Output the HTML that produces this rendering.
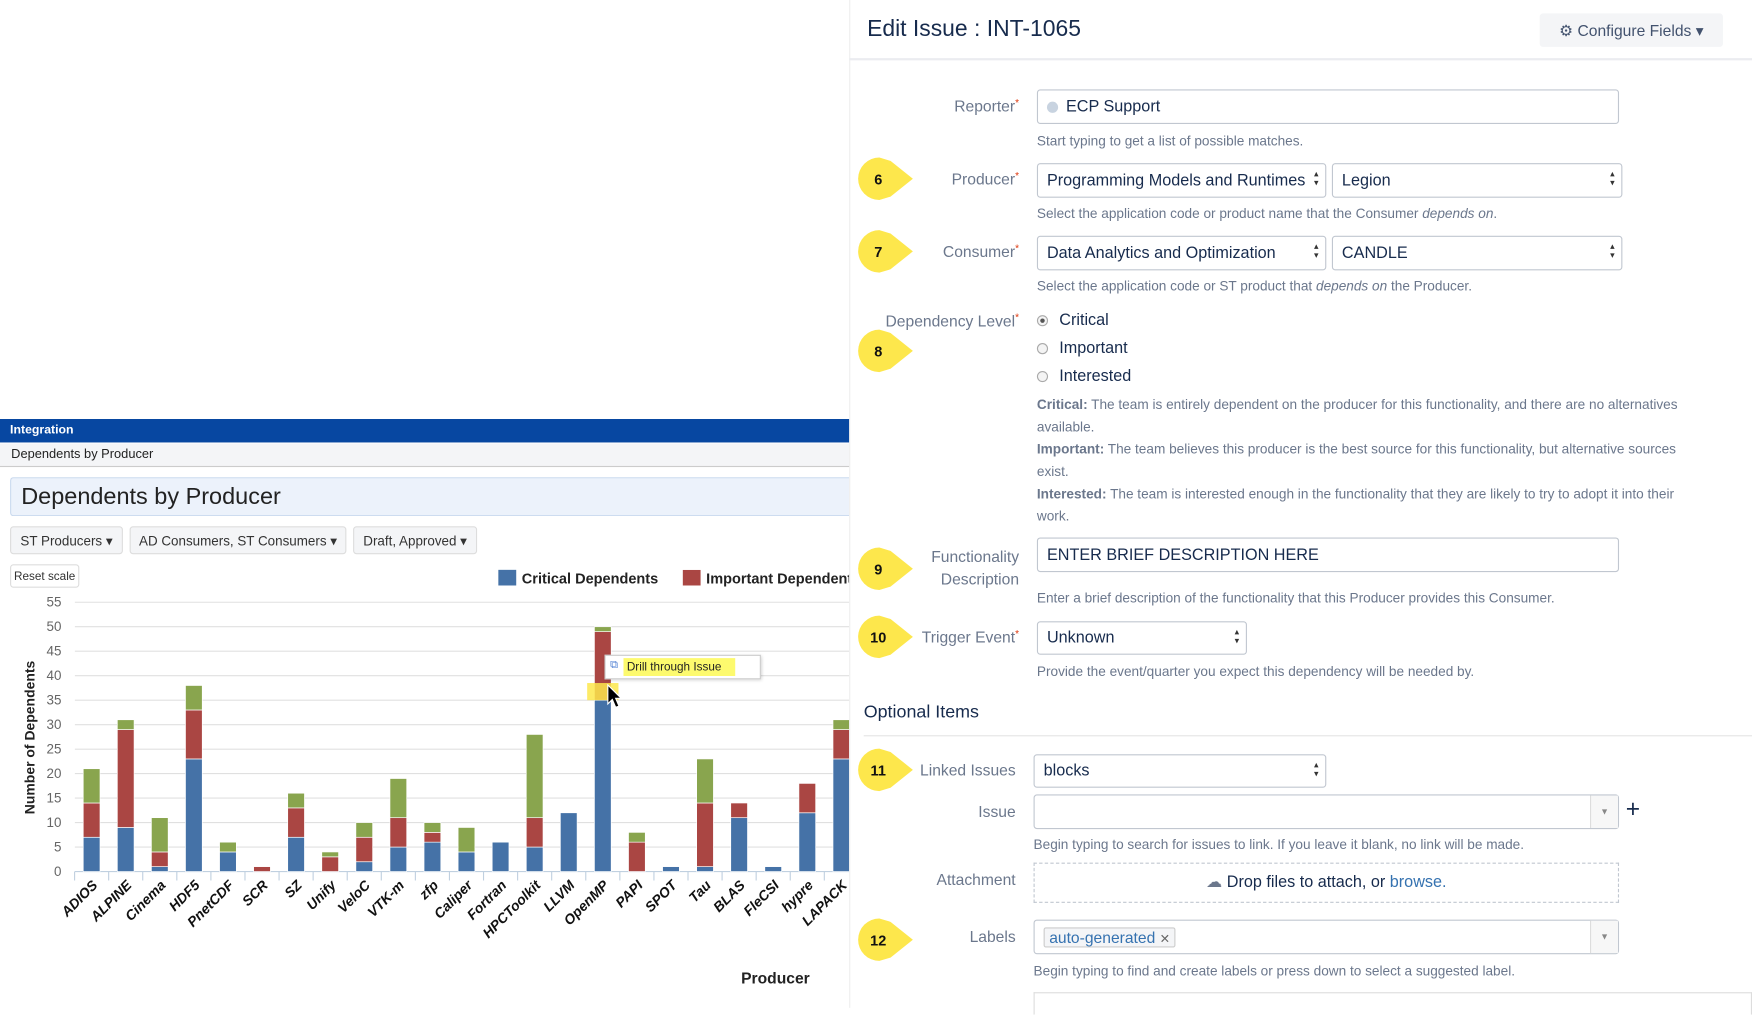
<!DOCTYPE html>
<html><head><meta charset="utf-8">
<style>
html,body{margin:0;padding:0;width:1752px;height:1008px;overflow:hidden;background:#fff;}
#wrap{position:absolute;left:0;top:0;width:1568px;height:902px;transform:scale(1.11735);transform-origin:0 0;font-family:"Liberation Sans",sans-serif;color:#172b4d;}
.abs{position:absolute;}
.lbl{position:absolute;right:656px;text-align:right;color:#6b778c;font-size:14px;white-space:nowrap;}
.req{color:#de350b;font-size:9px;vertical-align:top;}
.help{position:absolute;left:928px;color:#6b778c;font-size:12.2px;white-space:nowrap;}
.inp{position:absolute;border:1px solid #c1c7d0;border-radius:3px;background:#fff;box-sizing:border-box;font-size:14.5px;padding-left:8px;display:flex;align-items:center;color:#172b4d;}
.sel::after{content:"\25B4\A\25BE";white-space:pre;position:absolute;right:6px;top:5px;font-size:8px;line-height:8px;color:#333;}
.btn{position:absolute;background:#f4f5f7;border:1px solid #ddd;border-radius:3px;font-size:12px;color:#333;display:flex;align-items:center;justify-content:center;box-sizing:border-box;}
.radio{position:absolute;left:928px;width:10px;height:10px;border:1px solid #aaa;border-radius:50%;box-sizing:border-box;background:#f4f4f4;}
.rtxt{position:absolute;left:948px;font-size:14.5px;}
.desc{position:absolute;left:928px;font-size:12.2px;color:#6b778c;white-space:nowrap;}
.desc b{color:#6b778c;}
</style></head><body>
<div id="wrap">
<div class="abs" style="left:0;top:375px;width:760px;height:21px;background:#0747a1;color:#fff;font-size:11px;font-weight:bold;line-height:21px;padding-left:9px;box-sizing:border-box;">Integration</div>
<div class="abs" style="left:0;top:397px;width:760px;height:21px;background:#f4f5f7;border-bottom:1px solid #ccc;font-size:11.5px;line-height:21px;padding-left:10px;box-sizing:border-box;color:#222;">Dependents by Producer</div>
<div class="abs" style="left:9px;top:427px;width:751px;height:35px;background:#ecf2fb;border:1px solid #c9d9ee;border-right:none;border-radius:3px 0 0 3px;font-size:21px;line-height:33px;padding-left:9px;box-sizing:border-box;color:#222;">Dependents by Producer</div>
<div class="btn" style="left:9px;top:471px;width:101px;height:25px;">ST Producers ▾</div>
<div class="btn" style="left:116px;top:471px;width:194px;height:25px;">AD Consumers, ST Consumers ▾</div>
<div class="btn" style="left:316px;top:471px;width:111px;height:25px;">Draft, Approved ▾</div>
<div class="btn" style="left:9px;top:505px;width:62px;height:21px;background:#fff;font-size:10.5px;">Reset scale</div>
<div class="abs" style="left:446px;top:510px;font-size:13px;font-weight:bold;white-space:nowrap;color:#222;"><span style="display:inline-block;width:16px;height:14px;background:#4572a7;vertical-align:-2px;margin-right:5px;"></span>Critical Dependents</div>
<div class="abs" style="left:611px;top:510px;width:149px;overflow:hidden;font-size:13px;font-weight:bold;white-space:nowrap;color:#222;"><span style="display:inline-block;width:16px;height:14px;background:#aa4643;vertical-align:-2px;margin-right:5px;"></span>Important Dependents</div>

<svg id="chart" class="abs" style="left:0;top:0;" width="760" height="902" viewBox="0 0 760 902"></svg>

<div class="abs" style="left:541px;top:586px;width:140px;height:22px;background:#fff;border:1px solid #ccc;box-shadow:1px 1px 3px rgba(0,0,0,.2);box-sizing:border-box;">
<span style="position:absolute;left:4px;top:3px;font-size:10px;color:#4a7bd0;">⧉</span>
<span style="position:absolute;left:16px;top:2px;width:100px;height:16px;background:#fdfa6e;font-size:10.5px;line-height:16px;padding-left:3px;box-sizing:border-box;color:#222;">Drill through Issue</span></div>
<svg class="abs" style="left:542px;top:612px;" width="16" height="24"><path d="M2 1 L2 18 L6 14 L9 21 L12 20 L9 13 L14 13 Z" fill="#000" stroke="#fff" stroke-width="1"/></svg>

<div class="abs" style="left:760px;top:0;width:1px;height:902px;background:#eee;"></div>

<div class="abs" style="left:776px;top:14px;font-size:20.5px;color:#172b4d;">Edit Issue : INT-1065</div>
<div class="btn" style="left:1378px;top:12px;width:164px;height:30px;border:none;font-size:14px;color:#42526e;">⚙ Configure Fields ▾</div>
<div class="abs" style="left:760px;top:52px;width:808px;height:2px;background:#ebecf0;"></div>

<div class="lbl" style="top:87px;">Reporter<span class="req">*</span></div>
<div class="inp" style="left:928px;top:80px;width:521px;height:31px;"><span style="display:inline-block;width:10px;height:10px;border-radius:50%;background:#c8d3e0;margin-right:7px;"></span>ECP Support</div>
<div class="help" style="top:119px;">Start typing to get a list of possible matches.</div>

<div class="lbl" style="top:152px;">Producer<span class="req">*</span></div>
<div class="inp sel" style="left:928px;top:146px;width:259px;height:31px;">Programming Models and Runtimes</div>
<div class="inp sel" style="left:1192px;top:146px;width:260px;height:31px;">Legion</div>
<div class="help" style="top:184px;">Select the application code or product name that the Consumer <i>depends on</i>.</div>

<div class="lbl" style="top:217px;">Consumer<span class="req">*</span></div>
<div class="inp sel" style="left:928px;top:211px;width:259px;height:31px;">Data Analytics and Optimization</div>
<div class="inp sel" style="left:1192px;top:211px;width:260px;height:31px;">CANDLE</div>
<div class="help" style="top:249px;">Select the application code or ST product that <i>depends on</i> the Producer.</div>

<div class="lbl" style="top:279px;">Dependency Level<span class="req">*</span></div>
<div class="radio" style="top:282px;"><div style="width:4px;height:4px;border-radius:50%;background:#555;margin:2px;"></div></div>
<div class="rtxt" style="top:279px;">Critical</div>
<div class="radio" style="top:307px;"></div>
<div class="rtxt" style="top:304px;">Important</div>
<div class="radio" style="top:332px;"></div>
<div class="rtxt" style="top:329px;">Interested</div>
<div class="desc" style="top:355px;"><b>Critical:</b> The team is entirely dependent on the producer for this functionality, and there are no alternatives</div>
<div class="desc" style="top:375px;">available.</div>
<div class="desc" style="top:395px;"><b>Important:</b> The team believes this producer is the best source for this functionality, but alternative sources</div>
<div class="desc" style="top:415px;">exist.</div>
<div class="desc" style="top:435px;"><b>Interested:</b> The team is interested enough in the functionality that they are likely to try to adopt it into their</div>
<div class="desc" style="top:455px;">work.</div>

<div class="lbl" style="top:488px;line-height:20px;">Functionality<br>Description</div>
<div class="inp" style="left:928px;top:481px;width:521px;height:31px;">ENTER BRIEF DESCRIPTION HERE</div>
<div class="help" style="top:528px;">Enter a brief description of the functionality that this Producer provides this Consumer.</div>

<div class="lbl" style="top:562px;">Trigger Event<span class="req">*</span></div>
<div class="inp sel" style="left:928px;top:556px;width:188px;height:30px;">Unknown</div>
<div class="help" style="top:594px;">Provide the event/quarter you expect this dependency will be needed by.</div>

<div class="abs" style="left:773px;top:629px;font-size:16px;color:#172b4d;">Optional Items</div>
<div class="abs" style="left:773px;top:658px;width:795px;height:1px;background:#e5e5e5;"></div>

<div class="lbl" style="top:681px;right:659px;">Linked Issues</div>
<div class="inp sel" style="left:925px;top:675px;width:262px;height:30px;">blocks</div>
<div class="lbl" style="top:718px;right:659px;">Issue</div>
<div class="inp" style="left:925px;top:711px;width:524px;height:31px;"><div style="position:absolute;right:0;top:0;width:24px;height:29px;border-left:1px solid #ddd;background:#f7f7f7;font-size:8px;color:#888;text-align:center;line-height:29px;">▼</div></div>
<div class="abs" style="left:1455px;top:711px;font-size:22px;color:#172b4d;">+</div>
<div class="help" style="top:749px;left:925px;">Begin typing to search for issues to link. If you leave it blank, no link will be made.</div>

<div class="lbl" style="top:779px;right:659px;">Attachment</div>
<div class="abs" style="left:925px;top:772px;width:524px;height:36px;border:1px dashed #c1c7d0;box-sizing:border-box;text-align:center;font-size:14.5px;line-height:34px;color:#172b4d;"><span style="color:#6b778c;">☁</span> Drop files to attach, or <span style="color:#3572b0;">browse.</span></div>

<div class="lbl" style="top:830px;right:659px;">Labels</div>
<div class="inp" style="left:925px;top:823px;width:524px;height:31px;"><span style="border:1px solid #ccc;border-radius:2px;background:#f4f5f7;padding:0 4px;color:#3572b0;font-size:14px;">auto-generated <span style="color:#666;font-size:11px;">✕</span></span><div style="position:absolute;right:0;top:0;width:24px;height:29px;border-left:1px solid #ddd;background:#f7f7f7;font-size:8px;color:#888;text-align:center;line-height:29px;">▼</div></div>
<div class="help" style="top:862px;left:925px;">Begin typing to find and create labels or press down to select a suggested label.</div>
<div class="abs" style="left:925px;top:888px;width:643px;height:20px;border:1px solid #ddd;border-bottom:none;box-sizing:border-box;"></div>

<svg id="badges" class="abs" style="left:0;top:0;" width="1568" height="902"></svg>
</div>

<script>
const categories = ["ADIOS","ALPINE","Cinema","HDF5","PnetCDF","SCR","SZ","Unify","VeloC","VTK-m","zfp","Caliper","Fortran","HPCToolkit","LLVM","OpenMP","PAPI","SPOT","Tau","BLAS","FleCSI","hypre","LAPACK","MPI"];
const criticalValues = [7,9,1,23,4,0,7,0,2,5,6,4,6,5,12,35,0,1,1,11,1,12,23,0];
const importantValues = [7,20,3,10,0,1,6,3,5,6,2,0,0,6,0,14,6,0,13,3,0,6,6,0];
const interestedValues = [7,2,7,5,2,0,3,1,3,8,2,5,0,17,0,1,2,0,9,0,0,0,2,0];
const yTicks = [0,5,10,15,20,25,30,35,40,45,50,55];
const badgeLabels = ["6","7","8","9","10","11","12"];
const badgeRows = [160,225,314,509,570,689,841];

const NS = "http://www.w3.org/2000/svg";
const svg = document.getElementById("chart");
const yScale = v => 780 - v * (241 / 55);
const xScale = i => 82 + i * 30.5;
function mk(tag, attrs, parent) {
  const e = document.createElementNS(NS, tag);
  for (const k in attrs) e.setAttribute(k, attrs[k]);
  (parent || svg).appendChild(e);
  return e;
}
yTicks.forEach(t => {
  const g = mk("line", {x1:67, x2:760, y1:yScale(t), y2:yScale(t), stroke: t === 0 ? "#c0d0e0" : "#e0e0e0", "stroke-width":1});
  
  
  const tx = mk("text", {x:55, y:yScale(t)+4, "text-anchor":"end", "font-size":12, fill:"#666", "font-family":"Liberation Sans, sans-serif"});
  tx.textContent = t;
  
  
});
const yt = mk("text", {transform:"translate(31,660) rotate(-90)", "text-anchor":"middle", "font-size":12.5, "font-weight":"bold", fill:"#222", "font-family":"Liberation Sans, sans-serif"});
yt.textContent = "Number of Dependents";


const xt = mk("text", {x:694, y:880, "text-anchor":"middle", "font-size":14, "font-weight":"bold", fill:"#222", "font-family":"Liberation Sans, sans-serif"});
xt.textContent = "Producer";



const clip = mk("clipPath", {id:"plotclip"});
mk("rect", {x:0, y:0, width:760, height:902}, clip);
const plot = mk("g", {"clip-path":"url(#plotclip)"});
categories.forEach((c, i) => {
  const cx = xScale(i);
  const tick = mk("line", {x1:cx-15.25, x2:cx-15.25, y1:780, y2:788, stroke:"#c0d0e0"}, plot);
  
  
  let base = 0;
  [[criticalValues,"#4572a7","bar-critical"],[importantValues,"#aa4643","bar-important"],[interestedValues,"#89a54e","bar-interested"]].forEach(([arr,col,name]) => {
    const v = arr[i];
    if (v > 0) {
      const top = yScale(base + v), bot = yScale(base);
      const r = mk("rect", {x:cx-7.5, y:top, width:15, height:Math.max(bot-top,0), fill:col, stroke:"#fff", "stroke-width":0.6}, plot);
      
      
    }
    base += v;
  });
  const lb = mk("text", {transform:`translate(${cx+6},793) rotate(-45)`, "text-anchor":"end", "font-size":12.5, "font-weight":"bold", "font-style":"italic", fill:"#111", "font-family":"Liberation Sans, sans-serif"}, plot);
  lb.textContent = c;
  
  
});
const hl = mk("rect", {x:xScale(15)-14, y:yScale(38.5), width:28, height:yScale(35)-yScale(38.5), fill:"#fde74c", opacity:0.85});



const bs = document.getElementById("badges");
badgeRows.forEach((cy, i) => {
  const g = document.createElementNS(NS, "g");
  bs.appendChild(g);
  
  
  const p = document.createElementNS(NS, "path");
  p.setAttribute("d", `M787 ${cy-19} A19 19 0 1 0 787 ${cy+19} L797 ${cy+16} L817 ${cy} L797 ${cy-16} Z`);
  p.setAttribute("fill", "#fde74c");
  g.appendChild(p);
  const t = document.createElementNS(NS, "text");
  t.setAttribute("x", 786); t.setAttribute("y", cy+5);
  t.setAttribute("text-anchor", "middle"); t.setAttribute("font-size", 13);
  t.setAttribute("font-weight", "bold"); t.setAttribute("fill", "#111");
  t.setAttribute("font-family", "Liberation Sans, sans-serif");
  t.textContent = badgeLabels[i];
  g.appendChild(t);
});
</script>
</body></html>
